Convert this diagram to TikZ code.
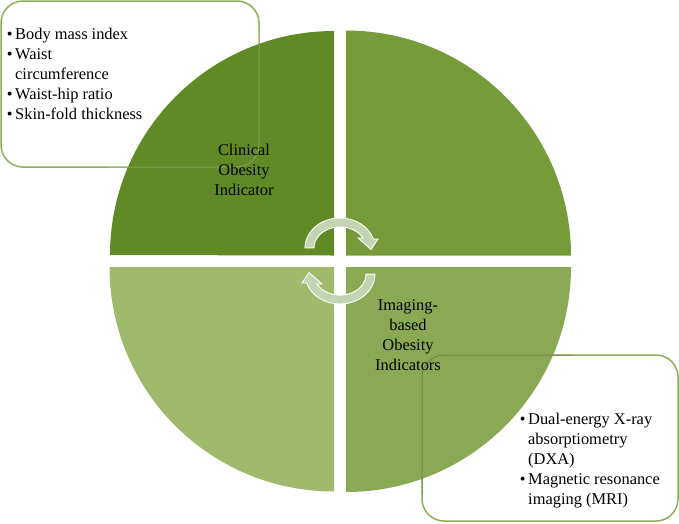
\documentclass[tikz,border=0pt]{standalone}
\usepackage{fontspec}
\setmainfont{Liberation Serif}
\definecolor{qa}{HTML}{5F8A25}
\definecolor{qb}{HTML}{769C3A}
\definecolor{qc}{HTML}{8AA955}
\definecolor{qd}{HTML}{9FBA6C}
\definecolor{boxline}{HTML}{8DAE5A}
\definecolor{cyc}{HTML}{C3D4B2}
\tikzset{
  x=1pt,y=-1pt,
  quadrant/.style={fill=#1,draw=none},
  listbox/.style={draw=boxline,line width=1.5pt,fill=white,rounded corners=22pt},
  boxghost/.style={draw=#1,opacity=.2,line width=1pt,rounded corners=22pt},
  cycle arrow/.style={fill=cyc,draw=white,line width=.9pt,line join=miter},
  label text/.style={font=\fontsize{16.4}{20}\selectfont,align=center,text=black,inner sep=0pt},
  list text/.style={font=\fontsize{16.4}{20}\selectfont,align=left,text=black,inner sep=0pt,anchor=north west}
}
\newcommand{\itm}{\llap{\textbullet\hspace{2.5pt}}}
\begin{document}
\begin{tikzpicture}
\useasboundingbox (0,0) rectangle (679,523);
\fill[white] (0,0) rectangle (679,523);
\draw[listbox] (1,1) rectangle (259,167);
\draw[listbox] (422,355) rectangle (678,521);
\fill[quadrant=qa] (334,255.5) -- (334,31) arc[start angle=270,end angle=180,radius=224] -- cycle;
\fill[quadrant=qb] (346,255.5) -- (571,255.5) arc[start angle=360,end angle=270,radius=225] -- cycle;
\fill[quadrant=qc] (346,267) -- (346,492) arc[start angle=90,end angle=0,radius=225] -- cycle;
\fill[quadrant=qd] (334,267) -- (109.5,267) arc[start angle=180,end angle=90,radius=224.5] -- cycle;
\begin{scope}
\clip (109,30) rectangle (572,493);
\draw[boxghost=white] (1,1) rectangle (259,167);
\draw[boxghost=black] (422,355) rectangle (678,521);
\end{scope}
\draw[cycle arrow] (305,248) arc[start angle=180,end angle=342.5,x radius=35,y radius=30] -- (378,239) -- (371,249.5) -- (358,238) -- (363,238) arc[start angle=332,end angle=180,x radius=26,y radius=21] -- cycle;
\begin{scope}[rotate around={180:(340,261)}]
\draw[cycle arrow] (305,248) arc[start angle=180,end angle=342.5,x radius=35,y radius=30] -- (378,239) -- (371,249.5) -- (358,238) -- (363,238) arc[start angle=332,end angle=180,x radius=26,y radius=21] -- cycle;
\end{scope}
\node[list text] (clinicallist) at (15,27.5) {\itm Body mass index\\\itm Waist\\circumference\\\itm Waist-hip ratio\\\itm Skin-fold thickness};
\node[list text] (imaginglist) at (528,412.5) {\itm Dual-energy X-ray\\absorptiometry\\(DXA)\\\itm Magnetic resonance\\imaging (MRI)};
\node[label text] (clinical) at (244,170) {Clinical\\Obesity\\Indicator};
\node[label text] (imaging) at (408,335) {Imaging-\\based\\Obesity\\Indicators};
\end{tikzpicture}
\end{document}
